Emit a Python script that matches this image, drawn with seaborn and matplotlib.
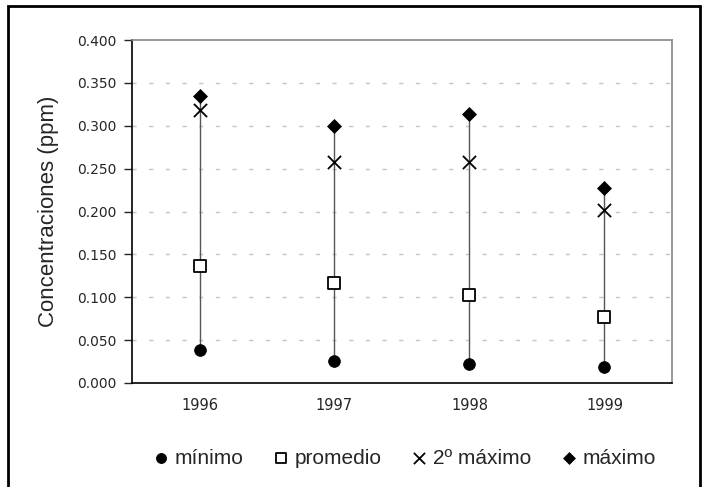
import pandas as pd
import matplotlib.pyplot as plt
import matplotlib.patches as mpatches
import seaborn as sns

anos = ['1996', '1997', '1998', '1999']
minimo = [0.038, 0.026, 0.022, 0.019]
promedio = [0.136, 0.117, 0.103, 0.077]
segundo_max = [0.318, 0.258, 0.258, 0.202]
maximo = [0.335, 0.300, 0.314, 0.228]

series = ['mínimo', 'promedio', '2º máximo', 'máximo']

df = pd.DataFrame({'ano': anos, 'mínimo': minimo, 'promedio': promedio,
                   '2º máximo': segundo_max, 'máximo': maximo})
df['pos'] = range(len(df))
largo = df.melt(id_vars=['ano', 'pos'], value_vars=series,
                var_name='serie', value_name='valor')

sns.set_style('white')
plt.rcParams['font.family'] = ['Liberation Sans', 'DejaVu Sans']

fig = plt.figure(figsize=(7.03, 4.87), dpi=100)
ax = fig.add_axes([0.1878, 0.2136, 0.768, 0.704])

# lineas verticales min-max
ax.vlines(df['pos'], df['mínimo'], df['máximo'], color='#555555', lw=1, zorder=1)

marcadores = {'mínimo': 'o', 'promedio': 's', '2º máximo': 'x', 'máximo': 'D'}
estilos = {
    'mínimo': dict(s=70, facecolor='black', edgecolor='black'),
    'promedio': dict(s=65, facecolor='white', edgecolor='black', linewidth=1.3),
    '2º máximo': dict(s=90, color='black', linewidth=1.3),
    'máximo': dict(s=50, facecolor='black', edgecolor='black'),
}
for s in series:
    sub = largo[largo['serie'] == s]
    sns.scatterplot(data=sub, x='pos', y='valor', marker=marcadores[s],
                    ax=ax, label=s, zorder=3, **estilos[s])

ax.set_xlim(-0.5, 3.5)
ax.set_ylim(0, 0.4)
ax.set_yticks([i * 0.05 for i in range(9)])
ax.set_yticklabels(['%.3f' % (i * 0.05) for i in range(9)], family='DejaVu Sans', fontsize=10)
ax.set_xticks(range(4))
ax.set_xticklabels(anos, family='DejaVu Sans', fontsize=10.5)
ax.set_xticks([-0.5, 0.5, 1.5, 2.5, 3.5], minor=True)
ax.tick_params(axis='x', which='major', length=0, pad=11)
ax.tick_params(axis='x', which='minor', length=6, direction='inout', width=1)
ax.tick_params(axis='y', length=6, direction='out', width=1, pad=5, left=True)

for y in [i * 0.05 for i in range(1, 8)]:
    ax.axhline(y, color='#c4c4c4', lw=1, ls=(0, (3, 9)), zorder=0)

ax.spines['left'].set_color('black')
ax.spines['bottom'].set_color('black')
ax.spines['top'].set_color('#888888')
ax.spines['right'].set_color('#888888')
for sp in ax.spines.values():
    sp.set_linewidth(1.2)

ax.set_xlabel('')
ax.set_ylabel('Concentraciones (ppm)', fontsize=16, labelpad=13)

ax.legend(loc='center', bbox_to_anchor=(0.503, -0.22), ncol=4, frameon=False,
          fontsize=15, handletextpad=0.2, handlelength=0.9,
          columnspacing=1.37, markerscale=0.85)

# marco exterior
marco = mpatches.Rectangle((8 / 703, -0.05), 692 / 703, 1.05 - 6 / 487,
                           transform=fig.transFigure, fill=False,
                           edgecolor='black', lw=2)
fig.patches.append(marco)

fig.savefig('out.png', dpi=100)
